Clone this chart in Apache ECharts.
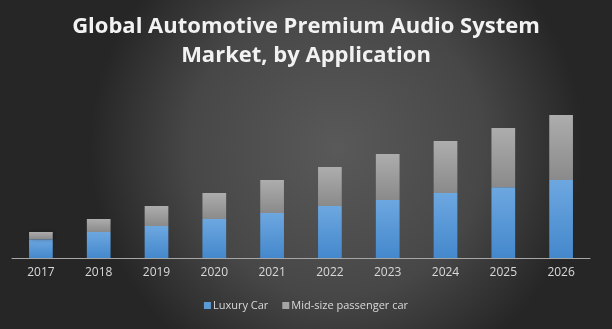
<!DOCTYPE html>
<html>
<head>
<meta charset="utf-8">
<script src="https://cdn.jsdelivr.net/npm/echarts@6/dist/echarts.min.js"></script>
<style>
  html, body { margin: 0; padding: 0; }
  #chart { width: 612px; height: 329px; }
</style>
</head>
<body>
<div id="chart"></div>
<script>
const years = ['2017', '2018', '2019', '2020', '2021', '2022', '2023', '2024', '2025', '2026']
const luxuryCar = [18.7, 26, 32, 39, 45, 52, 58, 65, 70.7, 78]
const midSizeCar = [7.3, 13, 20, 26, 33, 39, 46, 52, 59.3, 65]

const chart = echarts.init(document.getElementById('chart'))

const vGrad = (top, bottom) => new echarts.graphic.LinearGradient(0, 0, 0, 1, [
  { offset: 0, color: top },
  { offset: 1, color: bottom }
])

const option = {
  backgroundColor: {
    type: 'radial',
    x: 0.55,
    y: 0.45,
    r: 0.75,
    colorStops: [
      { offset: 0, color: '#595959' },
      { offset: 0.6, color: '#474747' },
      { offset: 1, color: '#262626' }
    ]
  },
  title: {
    text: 'Global Automotive Premium Audio System\nMarket, by Application',
    left: 'center',
    top: 7,
    textStyle: {
      color: '#f2f2f2',
      fontFamily: 'Open Sans',
      fontWeight: 'bold',
      fontSize: 22,
      lineHeight: 29
    }
  },
  legend: {
    bottom: 13,
    left: 'center',
    itemWidth: 7,
    itemHeight: 7,
    itemGap: 14,
    icon: 'rect',
    textStyle: { color: '#d9d9d9', fontFamily: 'Open Sans', fontSize: 11, padding: [0, 0, 0, -3] },
    data: [
      { name: 'Luxury Car', itemStyle: { color: '#5b9bd5' } },
      { name: 'Mid-size passenger car', itemStyle: { color: '#a5a5a5' } }
    ]
  },
  grid: {
    left: 12,
    right: 22,
    top: 115,
    bottom: 71
  },
  xAxis: {
    type: 'category',
    data: years,
    axisLine: { lineStyle: { color: '#a6a6a6', width: 1 } },
    axisTick: { show: false },
    axisLabel: { color: '#d9d9d9', fontFamily: 'Open Sans', fontSize: 12, margin: 9 }
  },
  yAxis: {
    type: 'value',
    min: 0,
    max: 143,
    show: false,
    splitLine: { show: false }
  },
  series: [
    {
      name: 'Luxury Car',
      type: 'bar',
      stack: 'total',
      barWidth: '41%',
      data: luxuryCar,
      itemStyle: {
        color: vGrad('#6da7e0', '#4488cc'),
        shadowColor: 'rgba(0,0,0,0.35)',
        shadowBlur: 4,
        shadowOffsetX: 1
      }
    },
    {
      name: 'Mid-size passenger car',
      type: 'bar',
      stack: 'total',
      barWidth: '41%',
      data: midSizeCar,
      itemStyle: {
        color: vGrad('#adadad', '#8a8a8a'),
        shadowColor: 'rgba(0,0,0,0.35)',
        shadowBlur: 4,
        shadowOffsetX: 1
      }
    }
  ]
}

chart.setOption(option)
</script>
</body>
</html>
